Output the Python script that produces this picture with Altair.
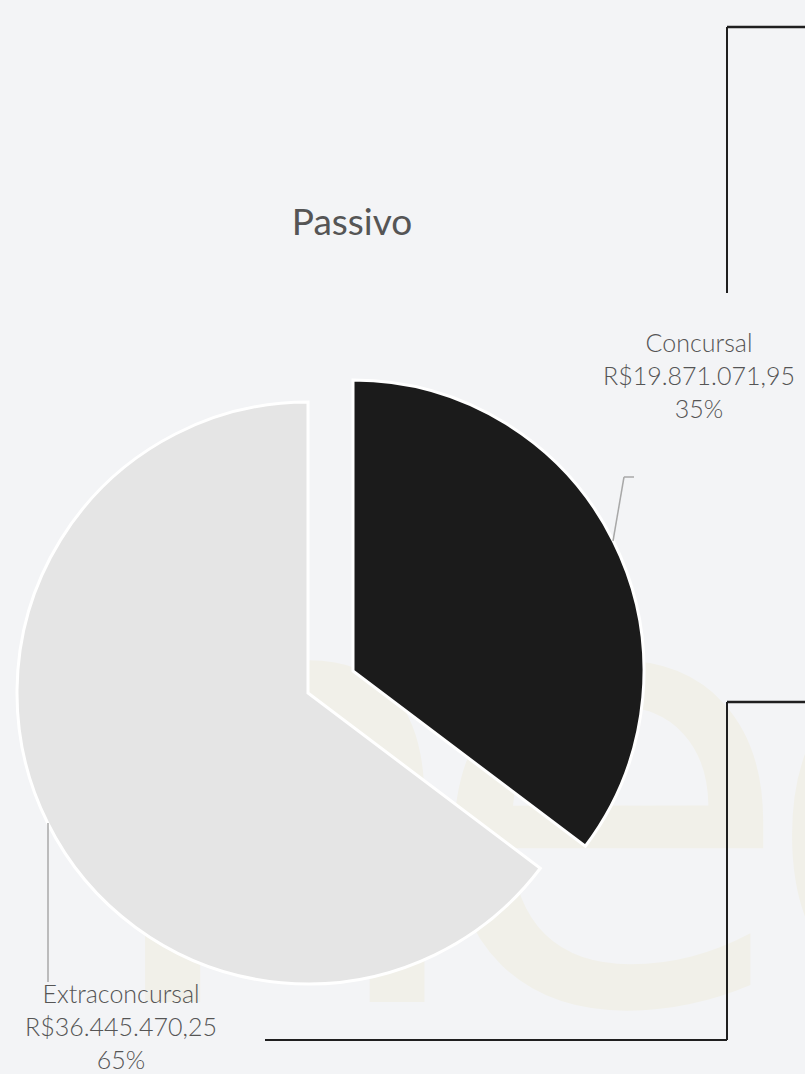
import math
import altair as alt
import pandas as pd

# ---- data ----
categories = ["Concursal", "Extraconcursal"]
values = [19871071.95, 36445470.25]
order = [0, 1]
colors = ["#1b1b1b", "#e5e5e5"]
title_text = "Passivo"

total = sum(values)


def brl(v):
    s = f"{v:,.2f}"
    return "R$" + s.replace(",", "_").replace(".", ",").replace("_", ".")


labels = [
    f"{c}\n{brl(v)}\n{round(100 * v / total)}%" for c, v in zip(categories, values)
]

df = pd.DataFrame(
    {"category": categories, "value": values, "order": order, "label": labels}
)

BG = "#f3f4f6"
WM = "#f1f0e9"
W, H = 805, 1074
R = 291

base = alt.Chart(df).transform_window(
    cum="sum(value)", sort=[alt.SortField("order")], frame=[None, 0]
).transform_calculate(start="datum.cum - datum.value")

theta_scale = alt.Scale(domain=[0, total], range=[0, 2 * math.pi])
color_scale = alt.Scale(domain=categories, range=colors)


def slice_layer(cat, cx, cy):
    return (
        base.transform_filter(alt.datum.category == cat)
        .mark_arc(radius=R, stroke="white", strokeWidth=3)
        .encode(
            theta=alt.Theta("start:Q", scale=theta_scale),
            theta2="cum:Q",
            color=alt.Color("category:N", scale=color_scale, legend=None),
            x=alt.value(cx),
            y=alt.value(cy),
        )
    )


one = alt.Chart(pd.DataFrame({"k": [0]}))


def wm_letter(ch, cx):
    return one.mark_text(
        text=ch, fontSize=610, font="DejaVu Sans", color=WM,
        align="center", baseline="alphabetic"
    ).encode(x=alt.value(cx), y=alt.value(1002))


watermark = [wm_letter("n", 283), wm_letter("e", 608), wm_letter("o", 945)]

pie_extra = slice_layer("Extraconcursal", 308, 693)
pie_conc = slice_layer("Concursal", 353, 671)


def rule(x1, y1, x2, y2, color, width):
    return one.mark_rule(color=color, strokeWidth=width).encode(
        x=alt.value(x1), y=alt.value(y1), x2=alt.value(x2), y2=alt.value(y2)
    )


deco = [
    rule(727, 27, 805, 27, "#1f1f1f", 2.5),
    rule(727, 27, 727, 293, "#1f1f1f", 2),
    rule(727, 702, 805, 702, "#1f1f1f", 2.5),
    rule(727, 702, 727, 1040, "#1f1f1f", 2),
    rule(265, 1040, 727, 1040, "#1f1f1f", 2),
]

leaders = [
    rule(613, 541, 624, 477, "#a8a8a8", 1.5),
    rule(624, 477, 634, 477, "#a8a8a8", 1.5),
    rule(48, 823, 48, 982, "#a8a8a8", 1.5),
]


def label_layer(cat, cx, cy):
    return (
        base.transform_filter(alt.datum.category == cat)
        .mark_text(
            font="Lato", fontWeight=300, fontSize=25, color="#555555",
            lineBreak="\n", lineHeight=33, align="center", baseline="middle"
        )
        .encode(text="label:N", x=alt.value(cx), y=alt.value(cy))
    )


labels_conc = label_layer("Concursal", 699, 344)
labels_extra = label_layer("Extraconcursal", 121, 995)

title = one.mark_text(
    text=title_text, font="Lato", fontSize=37, color="#555555",
    align="center", baseline="middle"
).encode(x=alt.value(352), y=alt.value(224))

chart = (
    alt.layer(
        *watermark, pie_extra, pie_conc, *deco, *leaders,
        labels_conc, labels_extra, title
    )
    .properties(width=W, height=H, autosize="none", padding=0, background=BG)
    .configure_view(stroke=None)
)

chart.save(
    "out.html",
    embed_options={
        "renderer": "svg",
        "actions": False,
        "defaultStyle": "body{margin:0;background:#f3f4f6;overflow:hidden}",
    },
)
